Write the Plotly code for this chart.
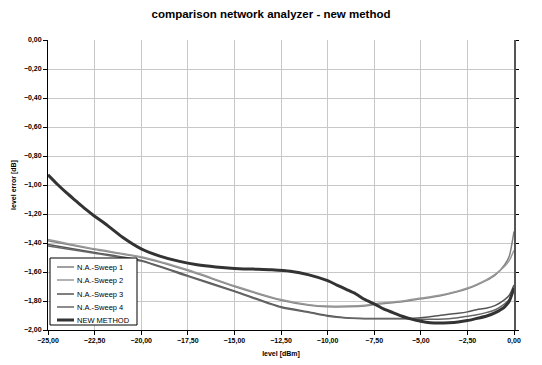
import plotly.graph_objects as go

# ---- data ----
nm_x = [-25, -24.5, -24, -23.5, -23, -22.5, -22, -21, -20, -19, -18, -17, -16, -15, -14, -13, -12,
        -11, -10, -9.5, -9, -8.5, -8, -7.5, -7, -6.5, -6, -5.5, -5, -4.5, -4, -3.5, -3, -2.5,
        -2, -1.5, -1, -0.5, -0.25, 0]
nm_y = [-0.93, -0.995, -1.055, -1.11, -1.165, -1.215, -1.26, -1.36, -1.44, -1.49, -1.525, -1.55, -1.565,
        -1.575, -1.58, -1.585, -1.595, -1.62, -1.66, -1.69, -1.72, -1.75, -1.79, -1.82, -1.855,
        -1.88, -1.905, -1.925, -1.94, -1.95, -1.952, -1.95, -1.945, -1.935, -1.92, -1.905,
        -1.88, -1.84, -1.80, -1.71]

sw_x = [-25, -22.5, -20, -17.5, -15, -12.5, -11, -10, -9, -8, -7.5, -6, -5, -4, -3, -2.5, -2,
        -1.5, -1, -0.5, -0.25, 0]
sw1_y = [-1.385, -1.445, -1.50, -1.59, -1.70, -1.795, -1.83, -1.84, -1.84, -1.835, -1.825, -1.805,
         -1.785, -1.765, -1.735, -1.715, -1.69, -1.66, -1.62, -1.55, -1.49, -1.32]
sw2_y = [-1.375, -1.44, -1.495, -1.585, -1.695, -1.79, -1.825, -1.835, -1.835, -1.83, -1.82, -1.80,
         -1.78, -1.76, -1.73, -1.71, -1.685, -1.655, -1.615, -1.56, -1.52, -1.45]
sw3_y = [-1.41, -1.465, -1.52, -1.625, -1.73, -1.84, -1.875, -1.90, -1.915, -1.92, -1.92, -1.92,
         -1.915, -1.90, -1.885, -1.875, -1.86, -1.85, -1.83, -1.79, -1.76, -1.69]
sw4_y = [-1.42, -1.47, -1.525, -1.63, -1.735, -1.845, -1.88, -1.905, -1.918, -1.922, -1.922, -1.922,
         -1.925, -1.925, -1.915, -1.905, -1.895, -1.88, -1.86, -1.82, -1.79, -1.72]

x_ticks = [-25, -22.5, -20, -17.5, -15, -12.5, -10, -7.5, -5, -2.5, 0]
y_ticks = [0, -0.2, -0.4, -0.6, -0.8, -1.0, -1.2, -1.4, -1.6, -1.8, -2.0]

names = ["N.A.-Sweep 1", "N.A.-Sweep 2", "N.A.-Sweep 3", "N.A.-Sweep 4", "NEW METHOD"]
colors = ["#808080", "#9a9a9a", "#555555", "#666666", "#333333"]
widths = [1.5, 1.5, 1.5, 1.5, 3]

# plot geometry (px)
W, H = 542, 365
ML, MR, MT, MB = 48, 28, 40, 35
PW, PH = W - ML - MR, H - MT - MB


def px2paper_x(px):
    return (px - ML) / PW


def px2paper_y(py):
    return (H - MB - py) / PH


fig = go.Figure()
for nm, ys, c, w in zip(names[:4], [sw1_y, sw2_y, sw3_y, sw4_y], colors[:4], widths[:4]):
    fig.add_trace(go.Scatter(x=sw_x, y=ys, mode="lines", name=nm, showlegend=False,
                             line=dict(color=c, width=w, shape="spline", smoothing=0.6)))
fig.add_trace(go.Scatter(x=nm_x, y=nm_y, mode="lines", name=names[4], showlegend=False,
                         line=dict(color=colors[4], width=widths[4], shape="spline", smoothing=0.6)))
fig.add_trace(go.Scatter(x=[None], y=[None], yaxis="y2", showlegend=False, hoverinfo="skip"))

# custom compact legend (Excel style)
shapes = [dict(type="rect", xref="paper", yref="paper",
               x0=px2paper_x(50), x1=px2paper_x(137), y0=px2paper_y(325), y1=px2paper_y(258),
               line=dict(color="black", width=1), fillcolor="white", layer="above")]
annotations = []
item_y = [267, 280, 294, 307, 320]
for nm, c, w, iy in zip(names, colors, widths, item_y):
    shapes.append(dict(type="line", xref="paper", yref="paper",
                       x0=px2paper_x(57), x1=px2paper_x(74), y0=px2paper_y(iy), y1=px2paper_y(iy),
                       line=dict(color=c, width=w), layer="above"))
    annotations.append(dict(text=nm, xref="paper", yref="paper", x=px2paper_x(75), y=px2paper_y(iy),
                            xanchor="left", yanchor="middle", showarrow=False,
                            font=dict(family="Liberation Sans", size=7.5, color="black")))

tickfont = dict(family="Liberation Sans", size=7, color="black", weight="bold")
fig.update_layout(
    width=W, height=H,
    margin=dict(l=ML, r=MR, t=MT, b=MB),
    paper_bgcolor="white", plot_bgcolor="white",
    separators=", ",
    title=dict(text="comparison network analyzer - new method", x=0.5, xanchor="center",
               y=0.962, yanchor="middle",
               font=dict(family="Liberation Sans", size=11.5, color="black", weight="bold")),
    xaxis=dict(range=[-25, 0], tickvals=x_ticks, tickformat=".2f", tickfont=tickfont,
               automargin=False,
               showgrid=True, gridcolor="#c8c8c8", gridwidth=1,
               showline=True, linecolor="black", linewidth=1,
               ticks="outside", ticklen=4, tickcolor="black", zeroline=False,
               title=dict(text="level [dBm]", standoff=6,
                          font=dict(family="Liberation Sans", size=7, color="black", weight="bold"))),
    yaxis=dict(range=[-2, 0], tickvals=y_ticks, tickformat=".2f", tickfont=tickfont,
               automargin=False,
               showgrid=True, gridcolor="#c8c8c8", gridwidth=1,
               showline=True, linecolor="black", linewidth=1,
               ticks="outside", ticklen=4, tickcolor="black", zeroline=False,
               title=dict(text="level error [dB]", standoff=6,
                          font=dict(family="Liberation Sans", size=7, color="black", weight="bold"))),
    yaxis2=dict(range=[-2, 0], overlaying="y", side="right", tickvals=y_ticks,
                showticklabels=False, showgrid=False, zeroline=False, automargin=False,
                showline=True, linecolor="#555555", linewidth=2,
                ticks="outside", ticklen=3, tickcolor="black"),
    shapes=shapes,
    annotations=annotations,
    showlegend=False,
)

fig.write_html("out.html")
